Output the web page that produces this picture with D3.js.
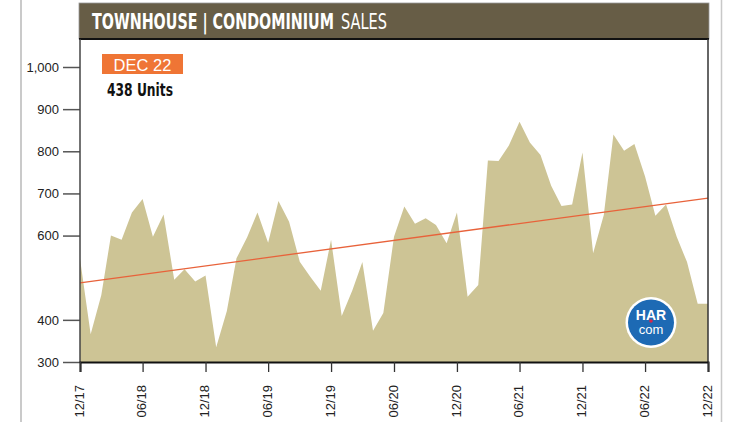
<!DOCTYPE html>
<html>
<head>
<meta charset="utf-8">
<script src="https://cdn.jsdelivr.net/npm/d3@7"></script>
<style>
  html, body { margin: 0; padding: 0; background: #fff; }
  svg { display: block; }
</style>
</head>
<body>
<svg id="chart" width="749" height="422"></svg>
<script>
// ---- data ----
const startMonth = new Date(2017, 11, 1);   // Dec 2017
const endMonth = new Date(2022, 11, 1);     // Dec 2022
const sales = [
  545,
  366, 459, 600, 590, 655, 687, 597, 650, 495, 520, 491, 505,
  335, 421, 546, 596, 655, 583, 682, 633, 538, 503, 469, 590,
  409, 470, 537, 374, 416, 597, 669, 628, 641, 625, 582, 655,
  455, 483, 778, 777, 814, 870, 821, 791, 718, 670, 674, 797,
  558, 649, 840, 801, 817, 740, 647, 674, 597, 537, 438, 438
];
const trendValues = [488, 689];
const yTickValues = [300, 400, 600, 700, 800, 900, 1000];
const xTickLabels = ["12/17","06/18","12/18","06/19","12/19","06/20","12/20","06/21","12/21","06/22","12/22"];
const titleBold = "TOWNHOUSE | CONDOMINIUM";
const titleLight = "SALES";
const badgeText = "DEC 22";
const unitsText = "438 Units";

(function () {
// ---- layout ----
const svg = d3.select("#chart");
const pl = 80, pr = 708, pb = 362;
const months = d3.timeMonth.range(startMonth, d3.timeMonth.offset(endMonth, 1));
const data = months.map((m, i) => ({ date: m, value: sales[i] }));

const x = d3.scaleTime().domain([startMonth, endMonth]).range([pl, pr]);
const y = d3.scaleLinear().domain([300, 1000]).range([pb, 67]);

// outer page lines
svg.append("line").attr("x1", 21).attr("x2", 21).attr("y1", 0).attr("y2", 422)
  .attr("stroke", "#b8b8b8").attr("stroke-width", 1.5);
svg.append("line").attr("x1", 721.5).attr("x2", 721.5).attr("y1", 0).attr("y2", 422)
  .attr("stroke", "#c8c8c8").attr("stroke-width", 1.5);

// title bar
svg.append("rect").attr("x", pl - 1).attr("y", 3).attr("width", pr - pl + 2).attr("height", 36)
  .attr("fill", "#675d46").attr("stroke", "#9a9a9a").attr("stroke-width", 0.8);
svg.append("line").attr("x1", pl - 1).attr("x2", pr + 1).attr("y1", 39).attr("y2", 39)
  .attr("stroke", "#111").attr("stroke-width", 2);

const tf = "'Liberation Sans Narrow','DejaVu Sans Condensed','Arial Narrow',sans-serif";
function fitText(tx, ty, str, weight, size, targetW, color) {
  const g = svg.append("g");
  const t = g.append("text").attr("x", 0).attr("y", 0)
    .attr("font-family", tf).attr("font-weight", weight).attr("font-size", size)
    .attr("fill", color).text(str);
  const w = t.node().getComputedTextLength() || targetW;
  g.attr("transform", `translate(${tx},${ty}) scale(${targetW / w},1)`);
}
fitText(92, 28.7, titleBold, "bold", 22, 242, "#fff");
fitText(341, 28.7, titleLight, "normal", 22, 46, "#fff");

// area
const area = d3.area()
  .x(d => x(d.date))
  .y0(y(300))
  .y1(d => y(d.value));
svg.append("path").datum(data).attr("d", area).attr("fill", "#cdc495");

// trend line
svg.append("line")
  .attr("x1", x(startMonth)).attr("y1", y(trendValues[0]))
  .attr("x2", x(endMonth)).attr("y2", y(trendValues[1]))
  .attr("stroke", "#e8623a").attr("stroke-width", 1.3);

// right frame
svg.append("line").attr("x1", pr).attr("x2", pr).attr("y1", 39).attr("y2", pb)
  .attr("stroke", "#333").attr("stroke-width", 1.5);

// y axis
const yAxis = d3.axisLeft(y).tickValues(yTickValues).tickSize(17).tickPadding(4)
  .tickFormat(d3.format(","));
const ya = svg.append("g").attr("transform", `translate(${pl},0)`).call(yAxis);
ya.select(".domain").remove();
ya.selectAll(".tick line").attr("stroke", "#555").attr("stroke-width", 1.5);
ya.selectAll(".tick text").attr("font-family", "'Liberation Sans',Arial,sans-serif")
  .attr("font-size", 13).attr("fill", "#222");
svg.append("line").attr("x1", pl).attr("x2", pl).attr("y1", 39).attr("y2", pb)
  .attr("stroke", "#444").attr("stroke-width", 1.5);

// x axis
const tickDates = xTickLabels.map((_, i) => d3.timeMonth.offset(startMonth, i * 6));
const xAxis = d3.axisBottom(x).tickValues(tickDates).tickSize(10).tickPadding(4)
  .tickFormat((d, i) => xTickLabels[i]);
const xa = svg.append("g").attr("transform", `translate(0,${pb})`).call(xAxis);
xa.select(".domain").attr("stroke", "#111").attr("stroke-width", 2);
xa.selectAll(".tick line").attr("stroke", "#333").attr("stroke-width", 1.3);
xa.selectAll(".tick text")
  .attr("font-family", "'Liberation Sans',Arial,sans-serif").attr("font-size", 13).attr("fill", "#222")
  .attr("transform", "rotate(-90)")
  .attr("text-anchor", "end")
  .attr("x", -23).attr("y", 0).attr("dy", "0.25em");

// badge
svg.append("rect").attr("x", 102).attr("y", 54).attr("width", 81).attr("height", 20).attr("fill", "#ef7535");
svg.append("text").attr("x", 142.5).attr("y", 70.5).attr("text-anchor", "middle")
  .attr("font-family", "'Liberation Sans',Arial,sans-serif").attr("font-size", 16.5)
  .attr("fill", "#fff").text(badgeText);
fitText(107, 96, unitsText, "bold", 17, 66, "#111");

// HAR logo
const logo = svg.append("g").attr("transform", "translate(651,322.5)");
logo.append("circle").attr("r", 25.5).attr("fill", "#fff");
logo.append("circle").attr("r", 23).attr("fill", "#1d6ab4");
logo.append("text").attr("y", -2.5).attr("text-anchor", "middle")
  .attr("font-family", "'Liberation Sans',Arial,sans-serif").attr("font-weight", "bold")
  .attr("font-size", 14).attr("fill", "#fff").text("HAR");
logo.append("circle").attr("cx", 0).attr("cy", -1.5).attr("r", 1.8).attr("fill", "#d8264c");
logo.append("text").attr("y", 11).attr("text-anchor", "middle")
  .attr("font-family", "'Liberation Sans',Arial,sans-serif")
  .attr("font-size", 13).attr("fill", "#fff").text("com");
})();
</script>
</body>
</html>
